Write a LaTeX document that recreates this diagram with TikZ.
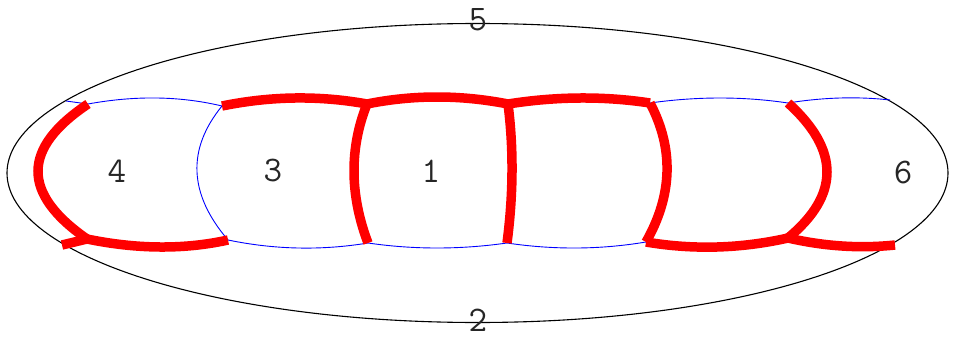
\documentclass[tikz,border=0pt]{standalone}
\usetikzlibrary{calc}
\begin{document}
\begin{tikzpicture}[x=1pt,y=-1pt,
  outline/.style={draw=black, line width=1.1pt},
  blueedge/.style={draw=blue, line width=0.9pt},
  rededge/.style={draw=red, line width=9.5pt, line cap=butt},
  lab/.style={font=\fontsize{36}{36}\selectfont\ttfamily, inner sep=0pt, text=black!85},
  thru/.style={to path={.. controls ($(#1)!-0.33333!(\tikztotarget)$) and ($(#1)!-0.33333!(\tikztostart)$) .. (\tikztotarget)}}]
\useasboundingbox (0,0) rectangle (953,340);
% vertices
\coordinate (T0) at (66,101);
\coordinate (T1) at (88,104);
\coordinate (T2) at (222,106);
\coordinate (T3) at (367,104);
\coordinate (T4) at (508,104);
\coordinate (T5) at (650,103);
\coordinate (T6) at (788,103);
\coordinate (T7) at (890,100);
\coordinate (B0) at (62,245);
\coordinate (B1) at (87,239);
\coordinate (B2) at (228,240);
\coordinate (B3) at (368,243);
\coordinate (B4) at (507,243);
\coordinate (B5) at (646,242);
\coordinate (B6) at (788,238);
\coordinate (B7) at (895,245);
% through points
\coordinate (t12) at (157,98);
\coordinate (t23) at (295,98);
\coordinate (t34) at (437,97);
\coordinate (t45) at (580,98);
\coordinate (t56) at (720,98);
\coordinate (t67) at (840,98);
\coordinate (b12) at (160,247);
\coordinate (b23) at (298,248);
\coordinate (b34) at (437,248);
\coordinate (b45) at (577,248);
\coordinate (b56) at (717,247);
\coordinate (b67) at (842,246);
\coordinate (v1) at (38,171);
\coordinate (v2) at (197,172);
\coordinate (v3) at (354,172);
\coordinate (v4) at (512,172);
\coordinate (v5) at (667,172);
\coordinate (v6) at (827,172);
% outer ellipse
\coordinate (O) at (477.5,173);
\draw[outline] (O) ellipse [x radius=470.5pt, y radius=149.5pt];
% blue edges
\draw[blueedge] (T0) -- (T1);
\draw[blueedge] (T1) to[thru=t12] (T2);
\draw[blueedge] (T5) to[thru=t56] (T6);
\draw[blueedge] (T6) to[thru=t67] (T7);
\draw[blueedge] (T2) to[thru=v2] (B2);
\draw[blueedge] (B2) to[thru=b23] (B3);
\draw[blueedge] (B3) to[thru=b34] (B4);
\draw[blueedge] (B4) to[thru=b45] (B5);
% red edges
\draw[rededge] (T1) to[thru=v1] (B1);
\draw[rededge] (B0) -- (B1);
\draw[rededge] (B1) to[thru=b12] (B2);
\draw[rededge] (T2) to[thru=t23] (T3);
\draw[rededge] (T3) to[thru=t34] (T4);
\draw[rededge] (T4) to[thru=t45] (T5);
\draw[rededge] (T3) to[thru=v3] (B3);
\draw[rededge] (T4) to[thru=v4] (B4);
\draw[rededge] (T5) to[thru=v5] (B5);
\draw[rededge] (T6) to[thru=v6] (B6);
\draw[rededge] (B5) to[thru=b56] (B6);
\draw[rededge] (B6) to[thru=b67] (B7);
% labels
\node[lab] (l4) at (117,171) {4};
\node[lab] (l3) at (273,171) {3};
\node[lab] (l1) at (431,171) {1};
\node[lab] (l6) at (903,172) {6};
\node[lab] (l5) at (478,20) {5};
\node[lab] (l2) at (478,320) {2};
\end{tikzpicture}
\end{document}
